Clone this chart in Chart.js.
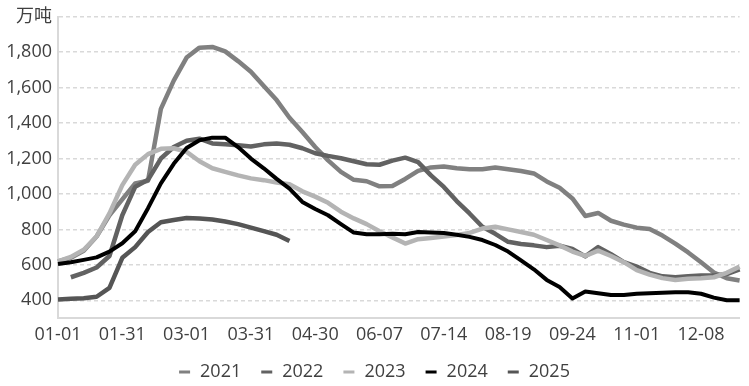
<!DOCTYPE html>
<html>
<head>
<meta charset="utf-8">
<script src="https://cdn.jsdelivr.net/npm/chart.js@4"></script>
<style>
  html, body { margin: 0; padding: 0; background: #fff; }
  #grafico { display: block; }
</style>
</head>
<body>
<canvas id="grafico" width="749" height="386"></canvas>
<script>
// Etiquetas del eje X (una cada 5 puntos)
const etiquetasX = ["01-01", "01-31", "03-01", "03-31", "04-30", "06-07", "07-14", "08-19", "09-24", "11-01", "12-08"];
const totalPuntos = 54;
const unidad = "万吨";
const ticksY = [400, 600, 800, 1000, 1200, 1400, 1600, 1800, 2000];

// Series (万吨)
const anios = ["2021", "2022", "2023", "2024", "2025"];
const datos2021 = [620, 640, 680, 760, 880, 970, 1060, 1075, 1480, 1640,
    1770, 1826, 1830, 1805, 1750, 1690, 1610, 1530, 1430, 1350,
    1265, 1190, 1125, 1080, 1072, 1043, 1045, 1085, 1130, 1150,
    1155, 1145, 1140, 1140, 1150, 1140, 1130, 1116, 1071, 1035,
    975, 876, 893, 849, 827, 810, 802, 765, 720, 670,
    615, 557, 524, 512];
const datos2022 = [null, 530, 555, 585, 650, 880, 1040, 1080, 1200, 1265,
    1300, 1312, 1285, 1280, 1275, 1268, 1280, 1285, 1278, 1258,
    1230, 1215, 1202, 1185, 1168, 1165, 1188, 1205, 1180, 1105,
    1040, 960, 890, 815, 775, 730, 718, 710, 700, 708,
    690, 648, 700, 660, 615, 590, 555, 535, 530, 535,
    540, 540, 548, 575];
const datos2023 = [620, 645, 685, 760, 890, 1050, 1165, 1225, 1255, 1258,
    1238, 1185, 1145, 1125, 1105, 1088, 1078, 1065, 1055, 1015,
    985, 950, 900, 862, 830, 790, 755, 720, 745, 752,
    760, 768, 780, 805, 815, 800, 785, 770, 740, 710,
    675, 650, 680, 650, 615, 570, 545, 525, 515, 522,
    525, 530, 555, 590];
const datos2024 = [605, 615, 628, 642, 675, 722, 790, 920, 1060, 1170,
    1260, 1303, 1318, 1318, 1265, 1200, 1145, 1085, 1030, 955,
    915, 880, 830, 782, 773, 773, 775, 773, 785, 783,
    780, 770, 758, 740, 712, 675, 625, 575, 515, 475,
    410, 450, 440, 430, 430, 437, 440, 443, 445, 445,
    437, 415, 400, 400];
const datos2025 = [405, 408, 412, 420, 470, 640, 700, 785, 840, 853,
    864, 862, 856, 845, 830, 810, 790, 770, 735];

const colores = ["#808080", "#626262", "#b4b4b4", "#000000", "#555555"];
const grosores = [4.5, 4.5, 4.5, 4, 4.5];
const series = [datos2021, datos2022, datos2023, datos2024, datos2025];

const fuente = '"Open Sans", "Noto Sans CJK SC", sans-serif';
const colorTexto = "#404040";

// Categorías: etiqueta solo cada 5 puntos
const categorias = [];
for (let i = 0; i < totalPuntos; i++) {
    categorias.push(i % 5 === 0 ? (etiquetasX[i / 5] || "") : "");
}

// Leyenda dibujada a mano (rayita corta + texto)
const leyenda = {
    id: "leyenda",
    afterDraw(chart) {
        const ctx = chart.ctx;
        ctx.save();
        ctx.font = "18px " + fuente;
        ctx.textBaseline = "middle";
        const anchoRaya = 11, sep = 10, hueco = 20;
        const items = chart.data.datasets.map(ds => ({
            ds,
            w: anchoRaya + sep + ctx.measureText(ds.label).width
        }));
        const total = items.reduce((s, it) => s + it.w, 0) + hueco * (items.length - 1);
        let x = (chart.width - total) / 2;
        const y = 372;
        items.forEach(it => {
            ctx.fillStyle = it.ds.borderColor;
            ctx.fillRect(x, y - 1.5, anchoRaya, 3);
            ctx.fillStyle = colorTexto;
            ctx.fillText(it.ds.label, x + anchoRaya + sep, y);
            x += it.w + hueco;
        });
        ctx.restore();
    }
};

const datasets = anios.map((a, i) => ({
    label: a,
    data: series[i],
    borderColor: colores[i],
    backgroundColor: colores[i],
    borderWidth: grosores[i],
    pointRadius: 0,
    tension: 0,
    borderJoinStyle: "round",
    order: anios.length - i   // como Excel: la última serie encima
}));

new Chart(document.getElementById("grafico"), {
    type: "line",
    data: { labels: categorias, datasets },
    options: {
        responsive: false,
        animation: false,
        layout: { padding: { top: 14, right: 9.4, bottom: 36, left: 0 } },
        plugins: {
            legend: { display: false },
            tooltip: { enabled: false }
        },
        scales: {
            x: {
                offset: false,
                afterFit: s => { s.height = 32; },
                grid: { display: false, drawTicks: false },
                border: { display: true, color: "#d9d9d9", width: 2 },
                ticks: {
                    autoSkip: false,
                    maxRotation: 0,
                    padding: 6,
                    color: colorTexto,
                    font: { family: fuente, size: 18 }
                }
            },
            y: {
                min: 300,
                max: 2000,
                afterBuildTicks: s => { s.ticks = ticksY.map(v => ({ value: v })); },
                afterFit: s => { s.width = 58; },
                grid: { color: "#d9d9d9", lineWidth: 1.5, drawTicks: false },
                border: { display: true, color: "#d9d9d9", width: 2, dash: [4, 3] },
                ticks: {
                    padding: 6,
                    color: colorTexto,
                    font: { family: fuente, size: 18 },
                    callback: v => v === 2000 ? unidad : v.toLocaleString("en-US")
                }
            }
        }
    },
    plugins: [leyenda]
});
</script>
</body>
</html>
